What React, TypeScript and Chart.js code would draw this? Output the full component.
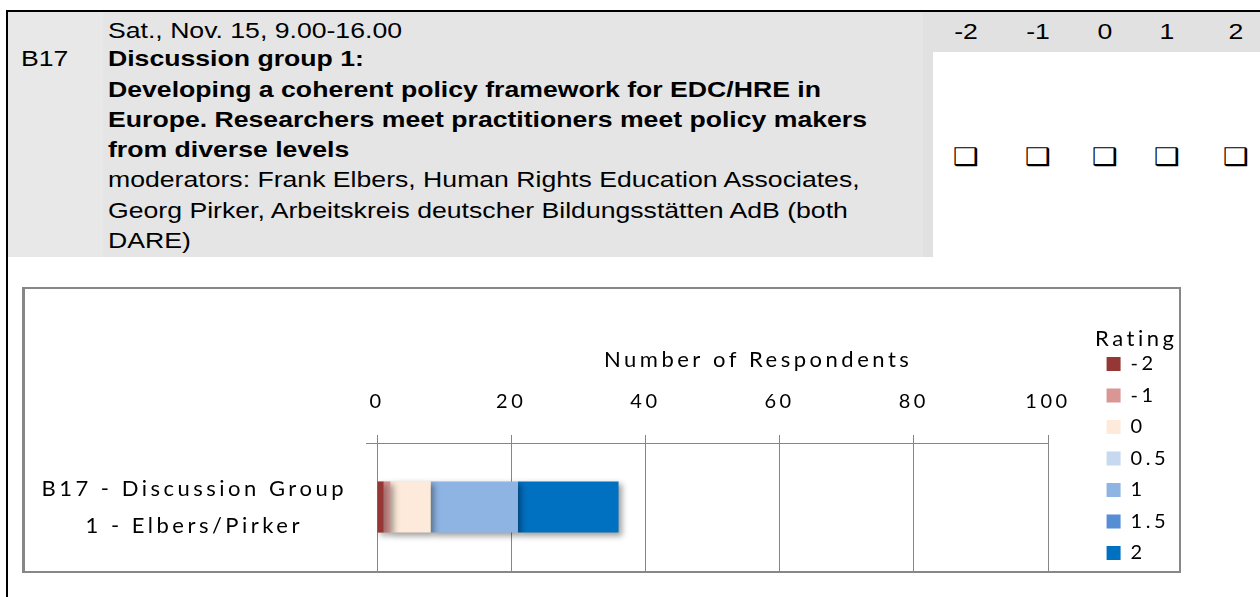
import React, { useEffect, useRef } from 'react';
import { Chart, registerables } from 'chart.js';

Chart.register(...registerables);

// ---- data ----
const categories = [['B17 - Discussion Group', '1 - Elbers/Pirker']];
const ratingLabels = ['-2', '-1', '0', '0.5', '1', '1.5', '2'];
const ratingCounts = [1, 1, 6, 0, 13, 0, 15];
const ratingColors = ['#953735', '#D99694', '#FDEADA', '#C6D9F1', '#8EB4E3', '#558ED5', '#0070C0'];
const xMin = 0;
const xMax = 100;
const xStep = 20;
const axisTitle = 'Number of Respondents';
const legendTitle = 'Rating';
const headerScale = ['-2', '-1', '0', '1', '2'];
const headerLines: [string, boolean][] = [
  ['Sat., Nov. 15, 9.00-16.00', false],
  ['Discussion group 1:', true],
  ['Developing a coherent policy framework for EDC/HRE in', true],
  ['Europe. Researchers meet practitioners meet policy makers', true],
  ['from diverse levels', true],
  ['moderators: Frank Elbers, Human Rights Education Associates,', false],
  ['Georg Pirker, Arbeitskreis deutscher Bildungsstätten AdB (both', false],
  ['DARE)', false],
];

// ---- layout/style constants ----
const CHART_FONT = 'Lato, "Noto Sans", sans-serif';
const GRID = '#868686';
const SPACING = '3.5px';
const STRETCH = 'scaleX(1.21)';
const scaleCenters = [966, 1038, 1105, 1167, 1236];

const spacingPlugin = {
  id: 'letterSpacing',
  beforeUpdate(chart: any) { chart.ctx.letterSpacing = SPACING; },
  beforeLayout(chart: any) { chart.ctx.letterSpacing = SPACING; },
  beforeDraw(chart: any) { chart.ctx.letterSpacing = SPACING; },
};

// legend hugs the right edge of the chart box
const legendPlacePlugin = {
  id: 'legendPlace',
  afterLayout(chart: any) {
    const L = chart.legend;
    if (!L) return;
    const dx = chart.width - L.right;
    L.left += dx;
    L.right += dx;
    L.top += 3.5;
    L.bottom += 3.5;
  },
};

const shadowPlugin = {
  id: 'barShadow',
  beforeDatasetsDraw(chart: any) {
    const c = chart.ctx;
    c.save();
    c.shadowColor = 'rgba(0,0,0,0.38)';
    c.shadowBlur = 6;
    c.shadowOffsetX = 3;
    c.shadowOffsetY = 3;
  },
  afterDatasetsDraw(chart: any) {
    chart.ctx.restore();
  },
};

const axisTitlePlugin = {
  id: 'axisTitle',
  afterDraw(chart: any) {
    const { left, right } = chart.chartArea;
    const scale = chart.scales.x;
    const c = chart.ctx;
    c.save();
    c.letterSpacing = SPACING;
    c.font = `22px ${CHART_FONT}`;
    c.fillStyle = '#000';
    c.textAlign = 'center';
    c.textBaseline = 'middle';
    c.fillText(axisTitle, (left + right) / 2 + (right - left) * 0.068, scale.top + 71);
    c.restore();
  },
};

export default function App() {
  const ref = useRef<HTMLCanvasElement>(null);

  useEffect(() => {
    const chart = new Chart(ref.current as HTMLCanvasElement, {
      type: 'bar',
      data: {
        labels: categories as any,
        datasets: ratingLabels.map((lab, i) => ({
          label: lab,
          data: [ratingCounts[i]],
          backgroundColor: ratingColors[i],
          borderWidth: 0,
          barPercentage: 0.4,
          categoryPercentage: 1,
        })),
      },
      options: {
        indexAxis: 'y',
        animation: false,
        responsive: false,
        layout: { padding: 0 },
        scales: {
          x: {
            position: 'top',
            stacked: true,
            min: xMin,
            max: xMax,
            ticks: { stepSize: xStep, padding: 21, color: '#000', font: { family: CHART_FONT, size: 20 } },
            grid: { color: GRID, tickLength: 8, lineWidth: 1 },
            border: { display: true, color: GRID },
            afterFit: (s: any) => { s.paddingRight = 131; s.height = 154; },
          },
          y: {
            stacked: true,
            ticks: { crossAlign: 'center', padding: 19, color: '#000', font: { family: CHART_FONT, size: 22, lineHeight: 1.68 } },
            grid: { display: true, drawOnChartArea: false, tickLength: 11, color: GRID },
            border: { display: true, color: GRID },
            afterFit: (s: any) => { s.width = 352; s.paddingTop = 0; s.paddingBottom = 0; },
          },
        },
        plugins: {
          tooltip: { enabled: false },
          legend: {
            position: 'right',
            align: 'end',
            title: {
              display: true,
              text: legendTitle,
              position: 'start',
              color: '#000',
              font: { family: CHART_FONT, size: 22, lineHeight: 1 },
              padding: { top: 0, bottom: -7.5 },
            },
            labels: {
              boxWidth: 14,
              boxHeight: 14,
              padding: 11.5,
              color: '#000',
              font: { family: CHART_FONT, size: 20 },
            },
          },
        },
      } as any,
      plugins: [spacingPlugin, legendPlacePlugin, shadowPlugin, axisTitlePlugin],
    });
    return () => chart.destroy();
  }, []);

  const abs = (s: React.CSSProperties): React.CSSProperties => ({ position: 'absolute', ...s });

  return (
    <div
      style={abs({
        left: 0, top: 0, width: 1260, height: 597, background: '#fff', overflow: 'hidden',
        fontFamily: '"Liberation Sans", Arial, sans-serif', fontSize: 22, color: '#000',
      })}
    >
      <div style={abs({ left: 8, top: 12, width: 95, height: 245, background: '#e8e8e8' })} />
      <div style={abs({ left: 103, top: 12, width: 820, height: 245, background: '#e5e5e5' })} />
      <div style={abs({ left: 923, top: 12, width: 10, height: 245, background: '#e1e1e1' })} />
      <div style={abs({ left: 923, top: 12, width: 337, height: 40, background: '#e1e1e1' })} />
      <div style={abs({ left: 6, top: 10, width: 1254, height: 2, background: '#000' })} />
      <div style={abs({ left: 6, top: 10, width: 2, height: 587, background: '#000' })} />

      <div style={abs({ left: 21, top: 44.3, lineHeight: '30.3px', whiteSpace: 'nowrap', transform: STRETCH, transformOrigin: 'left top' })}>B17</div>
      <div style={abs({ left: 108, top: 14, lineHeight: '30.3px', whiteSpace: 'nowrap', transform: STRETCH, transformOrigin: 'left top' })}>
        {headerLines.map(([t, b], i) => (
          <div key={i} style={{ fontWeight: b ? 'bold' : 'normal', position: 'relative', top: i === 0 ? 2 : 0 }}>{t}</div>
        ))}
      </div>

      {headerScale.map((t, i) => (
        <div key={'h' + i} style={abs({ left: scaleCenters[i] - 20, top: 17, width: 40, textAlign: 'center', lineHeight: '30.5px', transform: STRETCH })}>{t}</div>
      ))}
      {headerScale.map((t, i) => (
        <div key={'c' + i} style={abs({ left: scaleCenters[i] - 20, top: 141, width: 40, textAlign: 'center', lineHeight: '32px', fontFamily: '"DejaVu Sans", sans-serif', fontSize: 24, color: '#000', transform: STRETCH })}>❑</div>
      ))}

      <div
        style={abs({
          left: 22, top: 287, width: 1154, height: 282,
          borderLeft: '3px solid #878787', borderTop: '2px solid #878787',
          borderRight: '2px solid #878787', borderBottom: '2px solid #878787',
        })}
      >
        <canvas ref={ref} width={1154} height={282} style={{ display: 'block' }} />
      </div>
    </div>
  );
}
